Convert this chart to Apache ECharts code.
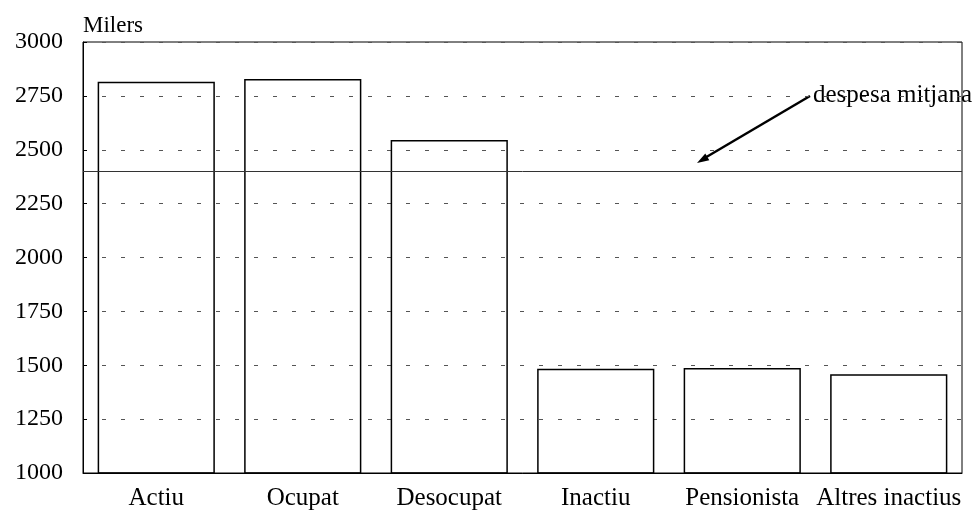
<!DOCTYPE html>
<html>
<head>
<meta charset="utf-8">
<script src="https://cdn.jsdelivr.net/npm/echarts@6/dist/echarts.min.js"></script>
<style>
  html, body { margin: 0; padding: 0; background: #fff; }
  #chart { width: 978px; height: 512px; }
</style>
</head>
<body>
<div id="chart"></div>
<script>
// data (milers)
var categories = ["Actiu", "Ocupat", "Desocupat", "Inactiu", "Pensionista", "Altres inactius"];
var despesa = [2815, 2828, 2545, 1484, 1487, 1458];
var mitjana = [2400];
var yTicks = [1000, 1250, 1500, 1750, 2000, 2250, 2500, 2750, 3000];

var font = "Liberation Serif";
var chart = echarts.init(document.getElementById("chart"));

chart.setOption({
  animation: false,
  textStyle: { fontFamily: font },
  grid: {
    left: 83, right: 16, top: 42, bottom: 39,
    show: true, borderColor: "#000", borderWidth: 1
  },
  xAxis: {
    type: "category",
    data: categories,
    axisLine: { lineStyle: { color: "#000", width: 1 } },
    axisTick: { show: false },
    axisLabel: { color: "#000", fontSize: 25, fontFamily: font, margin: 13, interval: 0 }
  },
  yAxis: {
    type: "value",
    min: yTicks[0],
    max: yTicks[yTicks.length - 1],
    interval: 250,
    name: "Milers",
    nameLocation: "end",
    nameGap: 5,
    nameTextStyle: { color: "#000", fontSize: 23, fontFamily: font, align: "left", verticalAlign: "bottom" },
    axisLine: { show: true, lineStyle: { color: "#000" } },
    axisTick: { show: true, inside: true, length: 4, lineStyle: { color: "#000" } },
    axisLabel: {
      color: "#000", fontSize: 24, fontFamily: font, margin: 20,
      formatter: function (v) { return String(v); }
    },
    splitLine: { show: true, lineStyle: { color: "#555", type: [4, 15], width: 1 } }
  },
  series: [{
    type: "bar",
    data: despesa,
    barWidth: "80%",
    itemStyle: { color: "rgba(0,0,0,0)", borderColor: "#000", borderWidth: 1.5 },
    markLine: {
      silent: true,
      symbol: ["none", "none"],
      label: { show: false },
      lineStyle: { color: "#333", type: "solid", width: 1 },
      data: [{ yAxis: mitjana[0] }]
    }
  }],
  graphic: [
    { type: "line", shape: { x1: 810, y1: 96, x2: 703, y2: 159 }, style: { stroke: "#000", lineWidth: 2.5 } },
    { type: "polygon", shape: { points: [[697, 163], [709.3, 160.3], [705.3, 153.4]] }, style: { fill: "#000" } },
    { type: "text", left: 813, top: 83, style: { text: "despesa mitjana", font: "25px 'Liberation Serif'", fill: "#000" } }
  ]
});
</script>
</body>
</html>
